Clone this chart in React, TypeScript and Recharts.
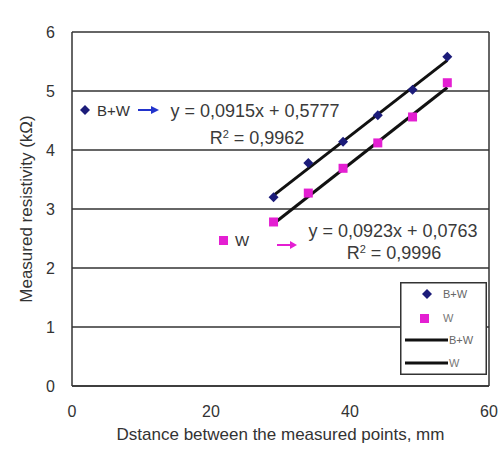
import React from 'react';
import { ScatterChart, Scatter, XAxis, YAxis, CartesianGrid, ReferenceLine, Legend, Label } from 'recharts';

// distance between measured points, mm
const distances = [29, 34, 39, 44, 49, 54];
const bwValues = [3.2, 3.78, 4.14, 4.59, 5.02, 5.58];
const wValues = [2.78, 3.27, 3.69, 4.12, 4.56, 5.14];

// trend line ends
const trendX = [29, 54];
const bwTrend = [3.23, 5.52];
const wTrend = [2.75, 5.06];

const xTicks = [0, 20, 40, 60];
const yTicks = [0, 1, 2, 3, 4, 5, 6];

const FONT = '"Liberation Sans", Arial, sans-serif';
const NAVY = '#1c1c7a';
const MAGENTA = '#e41fd2';

const bwData = distances.map((x, i) => ({ x, y: bwValues[i] }));
const wData = distances.map((x, i) => ({ x, y: wValues[i] }));
const bwLine = trendX.map((x, i) => ({ x, y: bwTrend[i] }));
const wLine = trendX.map((x, i) => ({ x, y: wTrend[i] }));

const Diamond = (props: any) => {
  const { cx, cy } = props;
  return <polygon points={`${cx},${cy - 5} ${cx + 5},${cy} ${cx},${cy + 5} ${cx - 5},${cy}`} fill={NAVY} />;
};

const Square = (props: any) => {
  const { cx, cy } = props;
  return <rect x={cx - 4.5} y={cy - 4.5} width={9} height={9} fill={MAGENTA} />;
};

const NoDot = () => <g />;

const LegendBox = () => (
  <svg width={87} height={93} style={{ display: 'block' }}>
    <rect x={0.75} y={0.75} width={85.5} height={91.5} fill="#fff" stroke="#333" strokeWidth={1.5} />
    <polygon points="27,7 32,12 27,17 22,12" fill={NAVY} />
    <text x={43} y={16} fontSize={11} fill="#666" fontFamily={FONT}>B+W</text>
    <rect x={20} y={32} width={9} height={9} fill={MAGENTA} />
    <text x={43} y={40} fontSize={11} fill="#777" fontFamily={FONT}>W</text>
    <line x1={5} y1={58} x2={48} y2={58} stroke="#111" strokeWidth={3} />
    <text x={49} y={62} fontSize={11} fill="#666" fontFamily={FONT}>B+W</text>
    <line x1={5} y1={81} x2={48} y2={81} stroke="#111" strokeWidth={3} />
    <text x={49} y={85} fontSize={11} fill="#777" fontFamily={FONT}>W</text>
  </svg>
);

export default function App() {
  return (
    <div style={{ position: 'absolute', left: 0, top: 0, width: 499, height: 450, background: '#fff' }}>
      <ScatterChart width={499} height={450} margin={{ top: 32, right: 10, bottom: 0, left: 0 }}>
        <CartesianGrid vertical={false} stroke="#333" strokeWidth={1.5} />
        <XAxis
          type="number"
          dataKey="x"
          domain={[0, 60]}
          ticks={xTicks}
          height={64}
          tickLine={false}
          tickMargin={14}
          axisLine={{ stroke: '#333', strokeWidth: 1.5 }}
          tick={{ fill: '#333', fontSize: 16, fontFamily: FONT }}
        >
          <Label
            value="Dstance between the measured points, mm"
            position="insideBottom"
            offset={10}
            style={{ fill: '#333', fontSize: 17, fontFamily: FONT }}
          />
        </XAxis>
        <YAxis
          type="number"
          dataKey="y"
          domain={[0, 6]}
          ticks={yTicks}
          width={72}
          tickLine={false}
          tickMargin={11}
          axisLine={{ stroke: '#333', strokeWidth: 1.5 }}
          tick={{ fill: '#333', fontSize: 16, fontFamily: FONT }}
        >
          <Label
            value="Measured resistivity (kΩ)"
            angle={-90}
            position="insideLeft"
            offset={26}
            style={{ fill: '#333', fontSize: 17, fontFamily: FONT, textAnchor: 'middle' }}
          />
        </YAxis>
        <ReferenceLine x={60} stroke="#333" strokeWidth={1.5} />
        <Scatter data={bwLine} line={{ stroke: '#111', strokeWidth: 3 }} shape={NoDot} isAnimationActive={false} legendType="none" />
        <Scatter data={wLine} line={{ stroke: '#111', strokeWidth: 3 }} shape={NoDot} isAnimationActive={false} legendType="none" />
        <Scatter name="B+W" data={bwData} shape={Diamond} isAnimationActive={false} />
        <Scatter name="W" data={wData} shape={Square} isAnimationActive={false} />
        <Legend
          layout="horizontal"
          align="center"
          verticalAlign="middle"
          content={<LegendBox />}
          wrapperStyle={{ position: 'absolute', left: 400, top: 282, width: 87, height: 93 }}
        />
      </ScatterChart>

      {/* trend line labels, placed like the Excel data labels */}
      <svg width={499} height={450} style={{ position: 'absolute', left: 0, top: 0, pointerEvents: 'none' }}>
        <g fontFamily={FONT} fill="#3a3a3a">
          <polygon points="85,105 90,110 85,115 80,110" fill={NAVY} />
          <text x={97} y={116} fontSize={15} fill="#333">B+W</text>
          <line x1={138} y1={110} x2={152} y2={110} stroke="#2233cc" strokeWidth={2} />
          <polygon points="151,106 159,110 151,114" fill="#2233cc" />
          <text x={255} y={117} fontSize={18} textAnchor="middle">y = 0,0915x + 0,5777</text>
          <text x={257} y={144} fontSize={18} textAnchor="middle">
            R<tspan dy={-6} fontSize={11}>2</tspan><tspan dy={6}> = 0,9962</tspan>
          </text>

          <rect x={219} y={236} width={9} height={9} fill={MAGENTA} />
          <text x={235} y={246} fontSize={15} fill="#333">W</text>
          <line x1={277} y1={245} x2={291} y2={245} stroke={MAGENTA} strokeWidth={2} />
          <polygon points="290,241 297,245 290,249" fill={MAGENTA} />
          <text x={393} y={237} fontSize={18} textAnchor="middle">y = 0,0923x + 0,0763</text>
          <text x={394} y={259} fontSize={18} textAnchor="middle">
            R<tspan dy={-6} fontSize={11}>2</tspan><tspan dy={6}> = 0,9996</tspan>
          </text>
        </g>
      </svg>
    </div>
  );
}
